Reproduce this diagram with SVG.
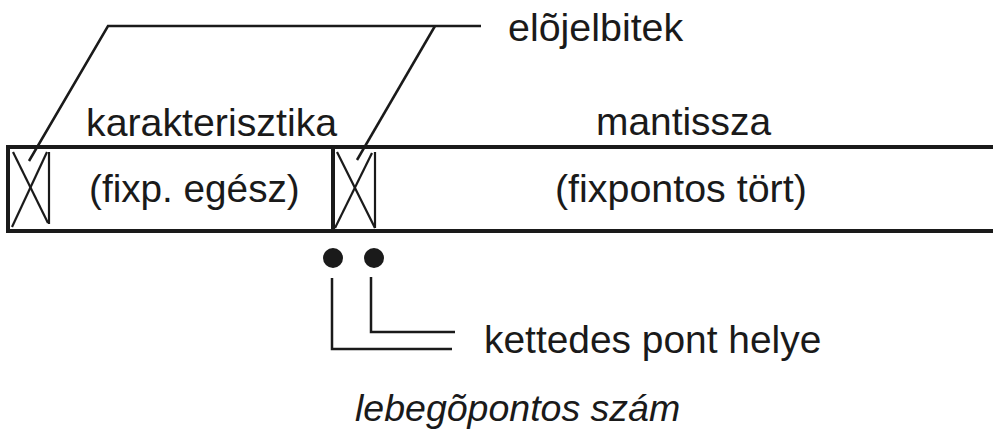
<svg xmlns="http://www.w3.org/2000/svg" width="993" height="437" viewBox="0 0 993 437">
<style>
.t{font-family:"Liberation Sans",Arial,sans-serif;fill:#1a1a1a}
.thick{stroke:#1a1a1a;stroke-width:4;fill:none}
.thin{stroke:#1a1a1a;stroke-width:2.5;fill:none}
.bit{stroke:#1a1a1a;stroke-width:2.2;fill:none}
</style>
<rect width="993" height="437" fill="#fff"/>
<g id="register">
<line class="thick" x1="8" y1="147" x2="993" y2="147"/>
<line class="thick" x1="8" y1="231" x2="993" y2="231"/>
<line class="thick" x1="8" y1="145" x2="8" y2="233"/>
<line class="thick" x1="333" y1="147" x2="333" y2="231"/>
</g>
<g id="signbit1">
<line class="bit" x1="49" y1="152" x2="49" y2="224"/>
<line class="bit" x1="13" y1="152" x2="48" y2="223"/>
<line class="bit" x1="12" y1="227" x2="47" y2="152"/>
</g>
<g id="signbit2">
<line class="bit" x1="375" y1="152" x2="375" y2="228"/>
<line class="bit" x1="337" y1="152" x2="375" y2="228"/>
<line class="bit" x1="335" y1="228" x2="372" y2="153"/>
</g>
<g id="karakterisztika">
<text class="t" x="86" y="136" font-size="39.3">karakterisztika</text>
<text class="t" x="89" y="202" font-size="38.7">(fixp. egész)</text>
</g>
<g id="mantissza">
<text class="t" x="596" y="135" font-size="38.9">mantissza</text>
<text class="t" x="555" y="202" font-size="39.4">(fixpontos tört)</text>
</g>
<g id="elojelbitek">
<text class="t" x="508" y="41" font-size="39.4">elõjelbitek</text>
</g>
<g id="dots">
<circle cx="333" cy="258" r="10" fill="#1a1a1a"/>
<circle cx="374" cy="258" r="10" fill="#1a1a1a"/>
</g>
<g id="kettedes">
<text class="t" x="484" y="353" font-size="38.9">kettedes pont helye</text>
</g>
<g id="title">
<text class="t" x="355" y="421" font-size="37.5" font-style="italic">lebegõpontos szám</text>
</g>
<g id="connectors">
<polyline class="thin" points="29,161 108,26 481,26"/>
<line class="thin" x1="435" y1="26" x2="357" y2="160"/>
<polyline class="thin" points="332,278 332,349 452,349"/>
<polyline class="thin" points="371,277 371,332 455,332"/>
</g>
</svg>
